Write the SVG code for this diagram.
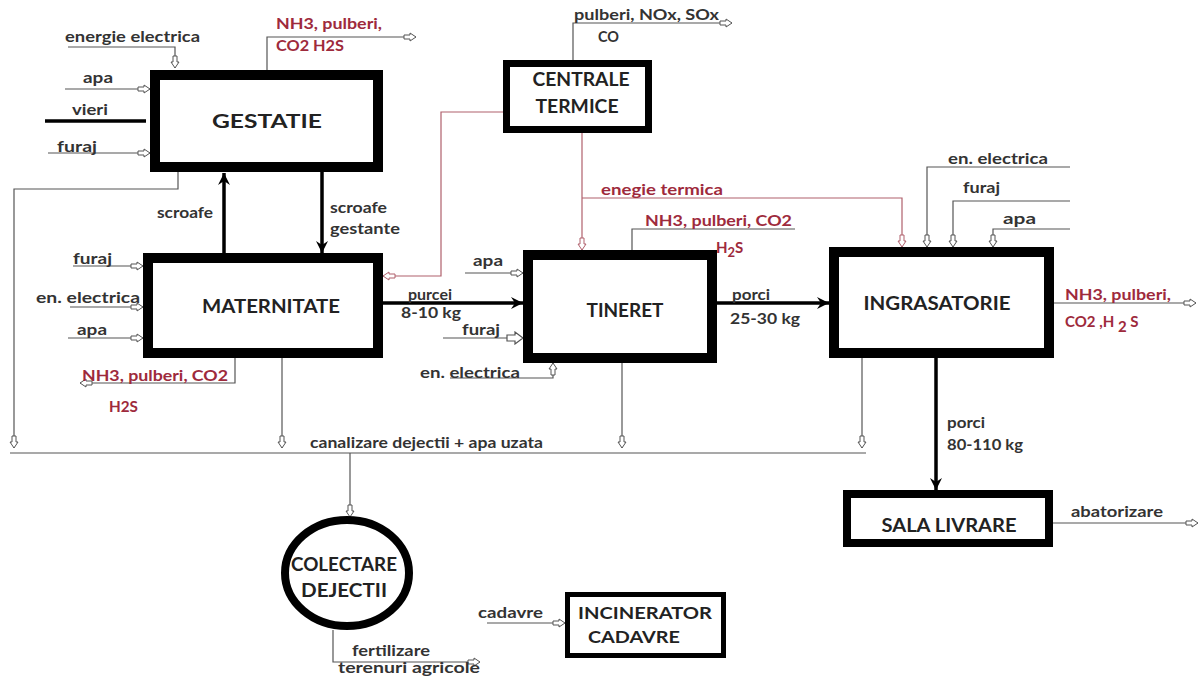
<svg xmlns="http://www.w3.org/2000/svg" width="1204" height="680" viewBox="0 0 1204 680">
<style>
text{font-family:"Lato","Liberation Sans",sans-serif;font-weight:bold;fill:#333}
.lbl{font-size:15px}
.red{fill:#9e2a3c}
.big{font-size:19px;text-anchor:middle;fill:#222}
.box{fill:#fff;stroke:#000}
.thin{fill:none;stroke:#555;stroke-width:1.2}
.rl{fill:none;stroke:#b0606c;stroke-width:1.2}
.thick{fill:none;stroke:#000;stroke-width:3.5}
</style>
<defs>
<marker id="op" markerUnits="userSpaceOnUse" markerWidth="14" markerHeight="10" refX="13" refY="5" orient="auto">
<path d="M1,3 H7 V1 L13,5 L7,9 V7 H1 Z" fill="#fff" stroke="#555" stroke-width="1"/>
</marker>
<marker id="opr" markerUnits="userSpaceOnUse" markerWidth="14" markerHeight="10" refX="13" refY="5" orient="auto">
<path d="M1,3 H7 V1 L13,5 L7,9 V7 H1 Z" fill="#fff" stroke="#b0606c" stroke-width="1"/>
</marker>
<marker id="opl" markerUnits="userSpaceOnUse" markerWidth="18" markerHeight="14" refX="17" refY="7" orient="auto">
<path d="M1,4 H9 V1 L17,7 L9,13 V10 H1 Z" fill="#fff" stroke="#555" stroke-width="1.2"/>
</marker>
<marker id="fl" markerUnits="userSpaceOnUse" markerWidth="14" markerHeight="14" refX="13" refY="7" orient="auto">
<path d="M1,1 L13,7 L1,13 L5,7 Z" fill="#000"/>
</marker>
</defs>

<g id="connectors">
<path class="thin" d="M68,47 H175 V68" marker-end="url(#op)"/>
<path class="thin" d="M65,89 H150" marker-end="url(#op)"/>
<path d="M45,121 H146" stroke="#000" stroke-width="3.5" fill="none"/>
<path class="thin" d="M48,153 H150" marker-end="url(#op)"/>
<path class="thin" d="M178,172 V189 H14 V448" marker-end="url(#op)"/>
<path class="thin" d="M267,70 V37 H416" marker-end="url(#op)"/>
<path class="thick" d="M224,253 V173" marker-end="url(#fl)"/>
<path class="thick" d="M322,172 V253" marker-end="url(#fl)"/>
<path class="rl" d="M503,112 H441 V276 H383" marker-end="url(#opr)"/>
<path class="rl" d="M582,133 V250" marker-end="url(#opr)"/>
<path class="rl" d="M582,198 H902 V247" marker-end="url(#opr)"/>
<path class="thin" d="M573,60 V23 H732" marker-end="url(#op)"/>
<path class="thin" d="M73,266 H143" marker-end="url(#op)"/>
<path class="thin" d="M70,307 H143" marker-end="url(#op)"/>
<path class="thin" d="M68,338 H143" marker-end="url(#op)"/>
<path class="thin" d="M235,358 V383 H80" marker-end="url(#op)"/>
<path class="thin" d="M282,358 V448" marker-end="url(#op)"/>
<path class="thick" d="M383,303 H523" marker-end="url(#fl)"/>
<path class="thin" d="M465,273 H523" marker-end="url(#op)"/>
<path class="thin" d="M443,338 H523" marker-end="url(#opl)"/>
<path class="thin" d="M450,378 H553 V363" marker-end="url(#op)"/>
<path class="thin" d="M632,250 V229 H795"/>
<path class="thin" d="M622,363 V448" marker-end="url(#op)"/>
<path class="thick" d="M717,303 H829" marker-end="url(#fl)"/>
<path class="thin" d="M1070,167 H927 V247" marker-end="url(#op)"/>
<path class="thin" d="M1070,201 H953 V247" marker-end="url(#op)"/>
<path class="thin" d="M1070,229 H993 V247" marker-end="url(#op)"/>
<path class="thin" d="M1054,303 H1196" marker-end="url(#op)"/>
<path class="thin" d="M862,358 V448" marker-end="url(#op)"/>
<path class="thick" d="M936,358 V490" marker-end="url(#fl)"/>
<path class="thin" d="M10,453 H866"/>
<path class="thin" d="M350,453 V517" marker-end="url(#op)"/>
<path class="thin" d="M333,630 V662 H480" marker-end="url(#op)"/>
<path class="thin" d="M1053,523 H1198" marker-end="url(#op)"/>
<path class="thin" d="M487,623 H565" marker-end="url(#op)"/>
</g>

<g id="gestatie">
<rect class="box" x="155" y="75" width="223" height="92" stroke-width="10"/>
<text class="big" x="267" y="128" textLength="110" lengthAdjust="spacingAndGlyphs">GESTATIE</text>
</g>
<g id="centrale">
<rect class="box" x="506.5" y="63.5" width="142" height="66" stroke-width="7"/>
<text class="big" x="581" y="86" textLength="97" lengthAdjust="spacingAndGlyphs">CENTRALE</text>
<text class="big" x="577" y="113" textLength="83" lengthAdjust="spacingAndGlyphs">TERMICE</text>
</g>
<g id="maternitate">
<rect class="box" x="148" y="258" width="230" height="95" stroke-width="10"/>
<text class="big" x="271" y="313" textLength="138" lengthAdjust="spacingAndGlyphs">MATERNITATE</text>
</g>
<g id="tineret">
<rect class="box" x="528" y="255" width="184" height="103" stroke-width="10"/>
<text class="big" x="625" y="317" textLength="77" lengthAdjust="spacingAndGlyphs">TINERET</text>
</g>
<g id="ingrasatorie">
<rect class="box" x="834" y="252" width="215" height="101" stroke-width="10"/>
<text class="big" x="937" y="310" textLength="147" lengthAdjust="spacingAndGlyphs">INGRASATORIE</text>
</g>
<g id="sala">
<rect class="box" x="847" y="494" width="202" height="49" stroke-width="8"/>
<text class="big" x="949" y="532" textLength="135" lengthAdjust="spacingAndGlyphs">SALA LIVRARE</text>
</g>
<g id="colectare">
<ellipse class="box" cx="347" cy="573" rx="62" ry="53" stroke-width="8"/>
<text class="big" x="344" y="571" font-size="18" textLength="106" lengthAdjust="spacingAndGlyphs">COLECTARE</text>
<text class="big" x="344" y="597" font-size="18" textLength="86" lengthAdjust="spacingAndGlyphs">DEJECTII</text>
</g>
<g id="incinerator">
<rect class="box" x="567.5" y="594.5" width="156" height="61" stroke-width="5"/>
<text class="big" x="645" y="619" style="font-size:17px" textLength="134" lengthAdjust="spacingAndGlyphs">INCINERATOR</text>
<text class="big" x="634" y="643" style="font-size:17px" textLength="92" lengthAdjust="spacingAndGlyphs">CADAVRE</text>
</g>

<g id="labels">
<text class="lbl" x="65" y="42" textLength="135" lengthAdjust="spacingAndGlyphs">energie electrica</text>
<text class="lbl" x="83" y="83" textLength="30" lengthAdjust="spacingAndGlyphs">apa</text>
<text class="lbl" x="72" y="115" textLength="36" lengthAdjust="spacingAndGlyphs">vieri</text>
<text class="lbl" x="57" y="152" textLength="40" lengthAdjust="spacingAndGlyphs">furaj</text>
<text class="lbl red" x="276" y="29" textLength="106" lengthAdjust="spacingAndGlyphs">NH3, pulberi,</text>
<text class="lbl red" x="276" y="51" textLength="68" lengthAdjust="spacingAndGlyphs">CO2 H2S</text>
<text class="lbl" x="574" y="20" textLength="145" lengthAdjust="spacingAndGlyphs">pulberi, NOx, SOx</text>
<text class="lbl" x="598" y="42" textLength="21" lengthAdjust="spacingAndGlyphs">CO</text>
<text class="lbl" x="157" y="218" textLength="56" lengthAdjust="spacingAndGlyphs">scroafe</text>
<text class="lbl" x="330" y="213" textLength="57" lengthAdjust="spacingAndGlyphs">scroafe</text>
<text class="lbl" x="330" y="234" textLength="70" lengthAdjust="spacingAndGlyphs">gestante</text>
<text class="lbl red" x="601" y="195" textLength="122" lengthAdjust="spacingAndGlyphs">enegie termica</text>
<text class="lbl red" x="645" y="226" textLength="147" lengthAdjust="spacingAndGlyphs">NH3, pulberi, CO2</text>
<text class="lbl red" x="716" y="253">H<tspan dy="4" font-size="13">2</tspan><tspan dy="-4">S</tspan></text>
<text class="lbl" x="73" y="264" textLength="39" lengthAdjust="spacingAndGlyphs">furaj</text>
<text class="lbl" x="36" y="303" textLength="104" lengthAdjust="spacingAndGlyphs">en. electrica</text>
<text class="lbl" x="77" y="335" textLength="30" lengthAdjust="spacingAndGlyphs">apa</text>
<text class="lbl red" x="82" y="381" textLength="146" lengthAdjust="spacingAndGlyphs">NH3, pulberi, CO2</text>
<text class="lbl red" x="109" y="412" textLength="29" lengthAdjust="spacingAndGlyphs">H2S</text>
<text class="lbl" x="408" y="300" textLength="44" lengthAdjust="spacingAndGlyphs">purcei</text>
<text class="lbl" x="401" y="318" textLength="60" lengthAdjust="spacingAndGlyphs">8-10 kg</text>
<text class="lbl" x="473" y="266" textLength="30" lengthAdjust="spacingAndGlyphs">apa</text>
<text class="lbl" x="462" y="335" textLength="38" lengthAdjust="spacingAndGlyphs">furaj</text>
<text class="lbl" x="420" y="378" textLength="100" lengthAdjust="spacingAndGlyphs">en. electrica</text>
<text class="lbl" x="732" y="300" textLength="38" lengthAdjust="spacingAndGlyphs">porci</text>
<text class="lbl" x="730" y="324" textLength="70" lengthAdjust="spacingAndGlyphs">25-30 kg</text>
<text class="lbl" x="948" y="164" textLength="100" lengthAdjust="spacingAndGlyphs">en. electrica</text>
<text class="lbl" x="963" y="193" textLength="37" lengthAdjust="spacingAndGlyphs">furaj</text>
<text class="lbl" x="1003" y="224" textLength="33" lengthAdjust="spacingAndGlyphs">apa</text>
<text class="lbl red" x="1065" y="300" textLength="106" lengthAdjust="spacingAndGlyphs">NH3, pulberi,</text>
<text class="lbl red" x="1065" y="327">CO2 ,H <tspan dy="5">2</tspan><tspan dy="-5"> S</tspan></text>
<text class="lbl" x="947" y="428" textLength="38" lengthAdjust="spacingAndGlyphs">porci</text>
<text class="lbl" x="947" y="450" textLength="76" lengthAdjust="spacingAndGlyphs">80-110 kg</text>
<text class="lbl" x="1071" y="517" textLength="92" lengthAdjust="spacingAndGlyphs">abatorizare</text>
<text class="lbl" x="310" y="448" textLength="233" lengthAdjust="spacingAndGlyphs">canalizare dejectii + apa uzata</text>
<text class="lbl" x="352" y="656" textLength="78" lengthAdjust="spacingAndGlyphs">fertilizare</text>
<text class="lbl" x="338" y="673" textLength="142" lengthAdjust="spacingAndGlyphs">terenuri agricole</text>
<text class="lbl" x="478" y="618" textLength="65" lengthAdjust="spacingAndGlyphs">cadavre</text>
</g>
</svg>
